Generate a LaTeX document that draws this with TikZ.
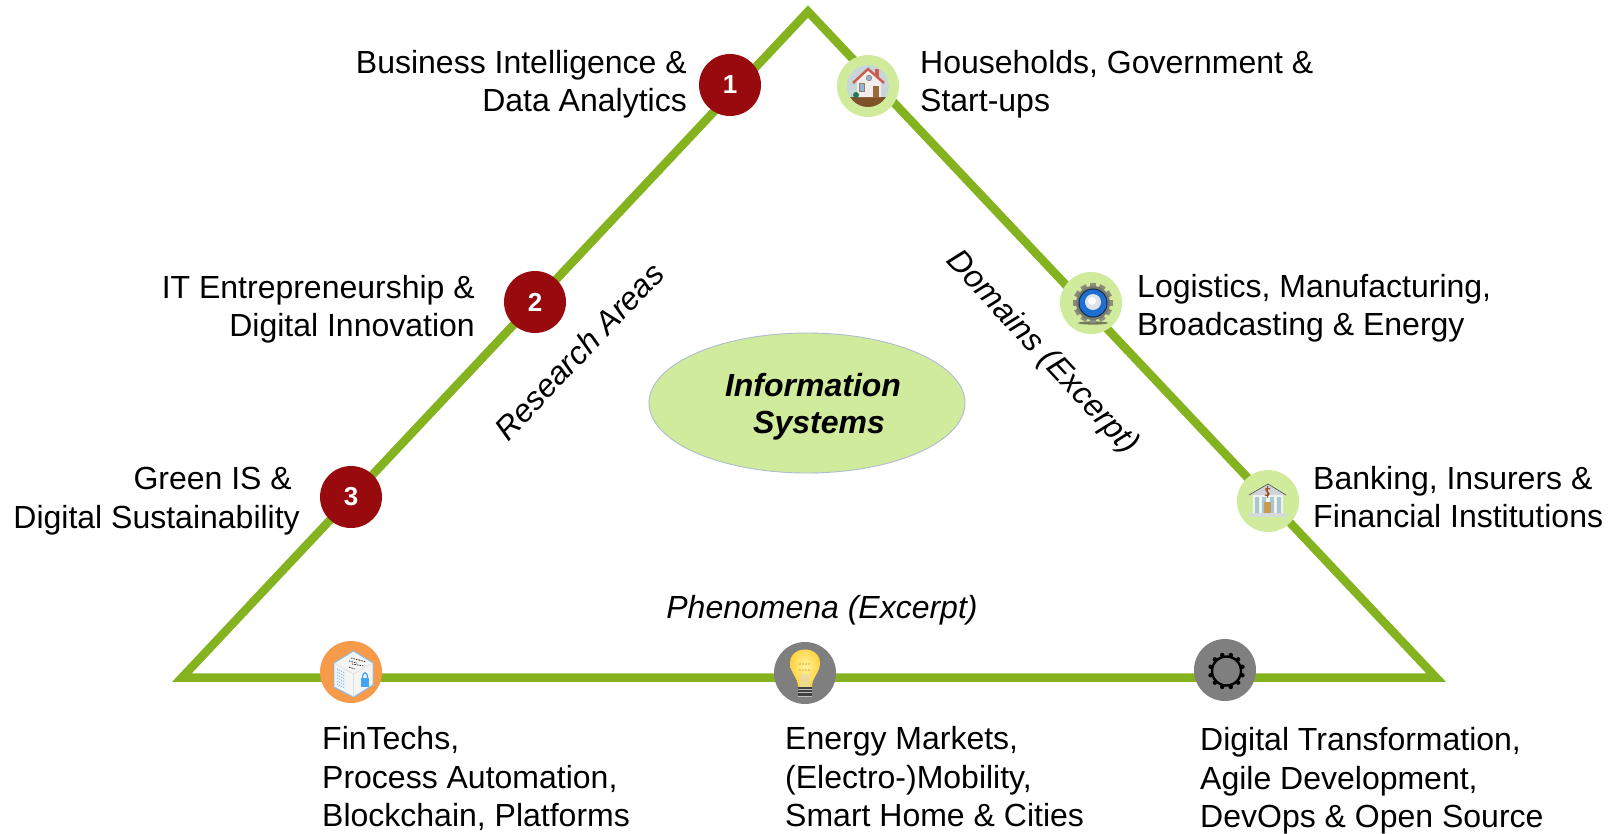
\documentclass[tikz,border=0pt]{standalone}
\usepackage{fontspec}
\setmainfont{Liberation Sans}
\usetikzlibrary{shapes.geometric,calc}
\definecolor{trigreen}{HTML}{85B21F}
\definecolor{lightg}{HTML}{D1EB9C}
\definecolor{ellborder}{HTML}{AEBBD2}
\definecolor{darkred}{HTML}{990A0E}
\definecolor{iconorange}{HTML}{F79A4A}
\definecolor{icongrey}{HTML}{7F7F7F}
\definecolor{lockblue}{HTML}{42A5F5}
\definecolor{hsky}{HTML}{C6D6DB}
\definecolor{hsoil}{HTML}{7F5228}
\definecolor{hwall}{HTML}{F1EDEB}
\definecolor{hroof}{HTML}{CF5A4E}
\definecolor{hdoor}{HTML}{9A6A3A}
\definecolor{hframe}{HTML}{9A7B60}
\definecolor{hglass}{HTML}{8FB6D8}
\definecolor{hbush}{HTML}{1F7A55}
\definecolor{gshadow}{HTML}{4A4A44}
\definecolor{gtooth}{HTML}{8C8C7C}
\definecolor{gbody}{HTML}{7A7A6E}
\definecolor{gdark}{HTML}{10264A}
\definecolor{gblue}{HTML}{1F6FD0}
\definecolor{gpearl}{HTML}{DDE3E6}
\definecolor{broof}{HTML}{CFD3D8}
\definecolor{bwall}{HTML}{EDF3F4}
\definecolor{bcol}{HTML}{A9C6CC}
\definecolor{bdoor}{HTML}{C99A52}
\definecolor{bbase}{HTML}{D5DADA}
\definecolor{bdollar}{HTML}{A5471E}
\definecolor{bulbin}{HTML}{FFF3A0}
\definecolor{bulbout}{HTML}{FFD23C}
\definecolor{bulbneck}{HTML}{E9D9A0}
\definecolor{bulbdot}{HTML}{D8A63A}
\tikzset{
  lbl/.style={font=\fontsize{32}{38.5}\selectfont,inner sep=0pt,text=black},
  rlbl/.style={lbl,align=right,anchor=east},
  llbl/.style={lbl,align=left,anchor=west},
  ital/.style={font=\fontsize{32}{38.5}\selectfont\itshape,inner sep=0pt},
  boldital/.style={font=\fontsize{32}{38.5}\selectfont\bfseries\itshape,inner sep=0pt},
  numc/.style={circle,fill=darkred,minimum size=62pt,inner sep=0pt,text=white,font=\fontsize{26}{30}\selectfont\bfseries},
  iconc/.style={circle,fill=#1,minimum size=62pt,inner sep=0pt},
}
\begin{document}
\begin{tikzpicture}[x=1pt,y=-1pt]
\useasboundingbox (0,0) rectangle (1608,833);
\coordinate (apex) at (808,11.5);
\coordinate (bl) at (182,677.5);
\coordinate (br) at (1436,677.5);
\draw[trigreen,line width=8.5pt,miter limit=10] (apex) -- (bl) -- (br) -- cycle;

\node[ellipse,draw=ellborder,line width=0.9pt,fill=lightg,minimum width=316pt,minimum height=140pt,inner sep=0pt] (core) at (807,403) {};
\node[boldital] (infoa) at (813,385) {Information};
\node[boldital] (infob) at (819,426) {Systems};

\node[numc] (n1) at (730,85) {1};
\node[numc] (n2) at (535,302) {2};
\node[numc] (n3) at (351,497) {3};
\node[iconc=lightg] (c1) at (868,86) {};
\node[iconc=lightg] (c2) at (1091,303) {};
\node[iconc=lightg] (c3) at (1268,501) {};
\node[iconc=iconorange] (c4) at (351,672) {};
\node[iconc=icongrey] (c5) at (805,673) {};
\node[iconc=icongrey] (c6) at (1225,670) {};

% house
\begin{scope}[shift={(c1)}]
  \begin{scope}
    \clip (0,0) circle (21);
    \fill[hsky] (0,0) circle (21);
    \fill[hsoil] (-21,11) rectangle (21,21);
  \end{scope}
  \fill[hwall] (-11,-6) -- (0,-16) -- (13,-6) -- (13,11) -- (-11,11) -- cycle;
  \fill[hroof] (7,-17) rectangle (11,-9);
  \draw[hroof,line width=2.4pt] (-15,-3) -- (0,-17) -- (16,-3);
  \fill[hdoor] (5,0) rectangle (11,11);
  \fill[hframe] (-9,-3) rectangle (-3,6);
  \fill[hglass] (-8,-2) rectangle (-4,5);
  \fill[hglass,draw=hframe,line width=.5pt] (1,-8) circle (2.8);
  \fill[hbush] (-12,9) circle (3);
\end{scope}

% gear
\begin{scope}[shift={(c2)}]
  \fill[gshadow,opacity=.7] (2,20) ellipse (15 and 1.6);
  \begin{scope}[shift={(2,0)}]
  \foreach \a in {0,30,...,330}{
    \fill[gtooth,rotate=\a] (13,-3) rectangle (20,3);
  }
  \end{scope}
  \fill[gbody] (2,0) circle (17);
  \fill[gdark] (2,0) circle (14.5);
  \fill[gblue] (2,0) circle (13.5);
  \fill[gpearl] (2,-1) circle (8);
  \fill[white] (1,-2) circle (4);
\end{scope}

% bank
\begin{scope}[shift={(c3)}]
  \fill[broof] (-19,-6) -- (0,-17) -- (18,-6) -- cycle;
  \draw[black!70,line width=.6pt] (-19,-6) -- (0,-17) -- (18,-6);
  \fill[bwall] (-15,-6) rectangle (15,12);
  \foreach \xc in {-11,-4,4,11}{ \fill[bcol] (\xc-1.6,-4) rectangle (\xc+1.6,12); }
  \fill[bdoor] (-4,1) rectangle (3,12);
  \fill[bbase] (-19,12) rectangle (18,16);
  \draw[bdollar,line width=1.2pt] (2,-12) .. controls (-1,-14) and (-4,-12) .. (-1,-9.5) .. controls (3,-7) and (0,-4) .. (-3,-6);
  \draw[bdollar,line width=.8pt] (-0.5,-15) -- (-0.5,-3);
\end{scope}

% cube
\begin{scope}[shift={(c4)}]
  \fill[white!96!black] (2.5,-21) -- (22,-9) -- (22,13) -- (2.5,25) -- (-17,15) -- (-17,-9) -- cycle;
  \draw[lockblue!70!white,line width=.9pt] (2.5,-21) -- (22,-9) -- (22,13) -- (2.5,25) -- (-17,15) -- (-17,-9) -- cycle;
  \draw[black!12,line width=.8pt] (-17,-9) -- (2.5,2) -- (22,-9) (2.5,2) -- (2.5,25);
  \foreach \yc/\xa/\xb in {-14/0/8,-11/-2/6,-8/1/13,-12/8/15,-5/-2/4}{ \draw[black!80,line width=.8pt,dash pattern=on 1.5pt off 1pt] (\xa,\yc) -- (\xb,\yc+2); }
  \foreach \yc in {-1,2,5,8,11,14}{ \draw[lockblue!80!white,line width=.7pt,dash pattern=on 1.2pt off 1pt] (-14,\yc-2) -- (-6,\yc+2); }
  \fill[lockblue] (10,6) rectangle (18,15);
  \draw[lockblue,line width=1.3pt] (11.5,6) .. controls (11.5,-1) and (16.5,-1) .. (16.5,6);
\end{scope}

% bulb
\begin{scope}[shift={(c5)}]
  \shade[inner color=bulbin,outer color=bulbout] (-7,14) .. controls (-7,4) and (-15,0) .. (-15,-10) .. controls (-15,-28) and (15,-28) .. (15,-10) .. controls (15,0) and (7,4) .. (7,14) -- cycle;
  \fill[bulbneck,opacity=.8] (-5,14) -- (-5,1) -- (5,1) -- (5,14) -- cycle;
  \foreach \xc in {-5,-2,...,4}{ \fill[bulbdot] (\xc,-9) circle (.9); \fill[bulbdot] (\xc,-3) circle (.9); }
  \fill[black!75] (-7,14) rectangle (7,24);
  \foreach \yc in {16,19.5,23}{ \draw[black!25,line width=1pt] (-7,\yc) -- (7,\yc); }
\end{scope}

% cog outline
\begin{scope}[shift={(c6)}]
  \draw[black,line width=2.4pt] (1.5,1) circle (14.5);
  \foreach \a in {15,45,...,345}{ \fill[black] (1.5,1) ++(\a:16.5) circle (2.2); }
\end{scope}

\node[rlbl] (t1) at (687,84) {Business Intelligence \&\\Data Analytics};
\node[rlbl] (t2) at (475,309) {IT Entrepreneurship \&\\Digital Innovation};
\node[rlbl] (t3) at (300,501) {Green IS \&\hspace*{8pt}\\Digital Sustainability};
\node[llbl] (t4) at (920,84) {Households, Government \&\\Start-ups};
\node[llbl] (t5) at (1137,308) {Logistics, Manufacturing,\\Broadcasting \& Energy};
\node[llbl] (t6) at (1313,497) {Banking, Insurers \&\\Financial Institutions};
\node[llbl] (t7) at (322,778.5) {FinTechs,\\Process Automation,\\Blockchain, Platforms};
\node[llbl] (t8) at (785,777) {Energy Markets,\\(Electro-)Mobility,\\Smart Home \& Cities};
\node[llbl] (t9) at (1200,781) {Digital Transformation,\\Agile Development,\\DevOps \& Open Source};

\node[ital,rotate=46.5] (ra) at (579,351) {Research Areas};
\node[ital,rotate=-47] (dm) at (1042,353) {Domains (Excerpt)};
\node[ital] (ph) at (822,610) {Phenomena (Excerpt)};
\end{tikzpicture}
\end{document}
